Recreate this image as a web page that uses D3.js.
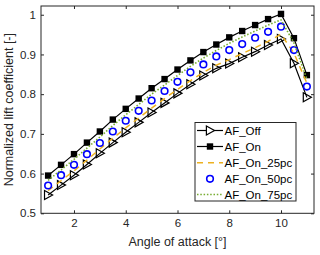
<!DOCTYPE html>
<html><head><meta charset="utf-8">
<script src="https://cdn.jsdelivr.net/npm/d3@7"></script>
<style>body{margin:0;background:#fff}svg{display:block}text{font-family:"Liberation Sans",Arial,sans-serif}</style>
</head><body>
<script>
const angles = [1,1.5,2,2.5,3,3.5,4,4.5,5,5.5,6,6.5,7,7.5,8,8.5,9,9.5,10,10.5,11];
const afOff  = [0.546,0.571,0.596,0.623,0.651,0.678,0.704,0.729,0.754,0.778,0.802,0.825,0.847,0.865,0.877,0.893,0.907,0.924,0.939,0.878,0.792];
const afOn   = [0.595,0.622,0.649,0.678,0.706,0.736,0.763,0.789,0.815,0.838,0.862,0.885,0.906,0.925,0.943,0.959,0.974,0.989,1.002,0.941,0.848];
const afOn25 = [0.557,0.582,0.607,0.634,0.662,0.689,0.715,0.740,0.765,0.789,0.812,0.834,0.855,0.873,0.887,0.902,0.917,0.933,0.951,0.903,0.828];
const afOn50 = [0.570,0.596,0.622,0.649,0.677,0.706,0.733,0.758,0.784,0.808,0.831,0.855,0.875,0.895,0.911,0.926,0.942,0.957,0.970,0.911,0.819];
const afOn75 = [0.583,0.609,0.636,0.664,0.692,0.721,0.748,0.774,0.800,0.823,0.847,0.870,0.891,0.910,0.928,0.944,0.959,0.974,0.987,0.929,0.838];
const xTicks = [2,4,6,8,10];
const yTicks = [0.5,0.6,0.7,0.8,0.9,1];
const seriesNames = ["AF_Off","AF_On","AF_On_25pc","AF_On_50pc","AF_On_75pc"];
const xLabel = "Angle of attack [°]";
const yLabel = "Normalized lift coefficient [-]";

const W=320,H=255, L=41, R=314, T=6, B=213.3;
const ax="#262626";
const svg=d3.select("body").append("svg").attr("width",W).attr("height",H);
const x=d3.scaleLinear().domain([0.725,11.275]).range([L,R]);
const y=d3.scaleLinear().domain([0.5,1.022]).range([B,T]);

// axes
const fs=11.5;
const gB=svg.append("g").attr("transform",`translate(0,${B})`).call(d3.axisBottom(x).tickValues(xTicks).tickSizeInner(-3).tickSizeOuter(0).tickPadding(6).tickFormat(d3.format("d")));
const gT=svg.append("g").attr("transform",`translate(0,${T})`).call(d3.axisTop(x).tickValues(xTicks).tickSizeInner(-3).tickSizeOuter(0).tickFormat(""));
const gL=svg.append("g").attr("transform",`translate(${L},0)`).call(d3.axisLeft(y).tickValues(yTicks).tickSizeInner(-3).tickSizeOuter(0).tickPadding(5).tickFormat(d=>d===1?"1":d3.format(".1f")(d)));
const gR=svg.append("g").attr("transform",`translate(${R},0)`).call(d3.axisRight(y).tickValues(yTicks).tickSizeInner(-3).tickSizeOuter(0).tickFormat(""));
[gB,gT,gL,gR].forEach(g=>{g.select(".domain").remove();g.selectAll("line").attr("stroke",ax);g.selectAll("text").attr("fill",ax).style("font-size",fs+"px").style("font-family","'Liberation Sans',Arial,sans-serif");});
svg.append("rect").attr("x",L).attr("y",T).attr("width",R-L).attr("height",B-T).attr("fill","none").attr("stroke",ax).attr("stroke-width",1);

svg.append("text").attr("x",(L+R)/2).attr("y",246).attr("text-anchor","middle").style("font-size","12.5px").attr("fill",ax).text(xLabel);
svg.append("text").attr("transform",`translate(13,${(T+B)/2}) rotate(-90)`).attr("text-anchor","middle").style("font-size","12.5px").attr("fill",ax).text(yLabel);

const plot=svg.append("g");
const line=d3.line().x(d=>x(d[0])).y(d=>y(d[1]));
const pts=v=>angles.map((a,i)=>[a,v[i]]);
const triPath=(s)=>`M${-s*0.6},${-s*0.75}L${s*0.75},0L${-s*0.6},${s*0.75}Z`;

// AF_Off
plot.append("path").attr("d",line(pts(afOff))).attr("fill","none").attr("stroke","#000").attr("stroke-width",1.2);
plot.selectAll(".tri").data(pts(afOff)).enter().append("path").attr("transform",d=>`translate(${x(d[0])},${y(d[1])})`).attr("d",triPath(6)).attr("fill","none").attr("stroke","#000").attr("stroke-width",1.2);
// AF_On
plot.append("path").attr("d",line(pts(afOn))).attr("fill","none").attr("stroke","#000").attr("stroke-width",1.2);
plot.selectAll(".sq").data(pts(afOn)).enter().append("rect").attr("x",d=>x(d[0])-3.2).attr("y",d=>y(d[1])-3.2).attr("width",6.4).attr("height",6.4).attr("fill","#000");
// 25pc
plot.append("path").attr("d",line(pts(afOn25))).attr("fill","none").attr("stroke","#EDB120").attr("stroke-width",1.5).attr("stroke-dasharray","6,5");
// 50pc
plot.selectAll(".ci").data(pts(afOn50)).enter().append("circle").attr("cx",d=>x(d[0])).attr("cy",d=>y(d[1])).attr("r",3.3).attr("fill","none").attr("stroke","#0000ff").attr("stroke-width",1.6);
// 75pc
plot.append("path").attr("d",line(pts(afOn75))).attr("fill","none").attr("stroke","#77AC30").attr("stroke-width",1.6).attr("stroke-dasharray","1.5,1.8");

// legend
const lx=195, ly=122.5, lw=101, lh=78.5;
const lg=svg.append("g");
lg.append("rect").attr("x",lx).attr("y",ly).attr("width",lw).attr("height",lh).attr("fill","#fff").attr("stroke",ax).attr("stroke-width",1);
const rowY=[130.5,146.5,162.8,178.8,194.5];
const s0=197, s1=223, sm=(s0+s1)/2, tx=224.5;
seriesNames.forEach((n,i)=>{
  const yy=rowY[i];
  if(i===0){lg.append("line").attr("x1",s0).attr("x2",s1).attr("y1",yy).attr("y2",yy).attr("stroke","#000").attr("stroke-width",1.2);
    lg.append("path").attr("transform",`translate(${sm},${yy})`).attr("d",triPath(6)).attr("fill","#fff").attr("stroke","#000").attr("stroke-width",1.2);}
  if(i===1){lg.append("line").attr("x1",s0).attr("x2",s1).attr("y1",yy).attr("y2",yy).attr("stroke","#000").attr("stroke-width",1.2);
    lg.append("rect").attr("x",sm-3.2).attr("y",yy-3.2).attr("width",6.4).attr("height",6.4).attr("fill","#000");}
  if(i===2){lg.append("line").attr("x1",s0).attr("x2",s1).attr("y1",yy).attr("y2",yy).attr("stroke","#EDB120").attr("stroke-width",1.5).attr("stroke-dasharray","6,5");}
  if(i===3){lg.append("circle").attr("cx",sm).attr("cy",yy).attr("r",3.3).attr("fill","none").attr("stroke","#0000ff").attr("stroke-width",1.6);}
  if(i===4){lg.append("line").attr("x1",s0).attr("x2",s1).attr("y1",yy).attr("y2",yy).attr("stroke","#77AC30").attr("stroke-width",1.6).attr("stroke-dasharray","1.5,1.8");}
  lg.append("text").attr("x",tx).attr("y",yy).attr("dy","0.36em").style("font-size","11.5px").attr("fill","#000").text(n);
});
</script>
</body></html>
